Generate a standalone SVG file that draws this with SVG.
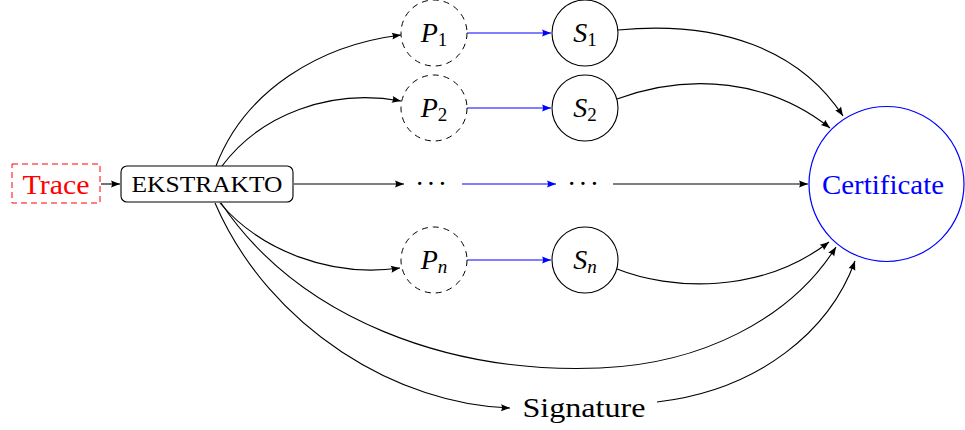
<svg xmlns="http://www.w3.org/2000/svg" width="965" height="430" viewBox="0 0 965 430">
<defs>
<marker id="ah" markerUnits="userSpaceOnUse" markerWidth="12" markerHeight="10" refX="9" refY="3.5" orient="auto" overflow="visible">
<path d="M0,0 L9,3.5 L0,7 Q2,3.5 0,0 Z" fill="#000"/>
</marker>
<marker id="ahb" markerUnits="userSpaceOnUse" markerWidth="12" markerHeight="10" refX="9" refY="3.5" orient="auto" overflow="visible">
<path d="M0,0 L9,3.5 L0,7 Q2,3.5 0,0 Z" fill="#0000ff"/>
</marker>
</defs>
<style>
text{font-family:"Liberation Serif","Times New Roman","DejaVu Serif",serif}
.t{fill:#000}
.e{fill:none;stroke:#000;stroke-width:1.1;marker-end:url(#ah)}
.eb{fill:none;stroke:#0000ff;stroke-width:1.1;marker-end:url(#ahb)}
.dn{fill:#fff;stroke:#000;stroke-width:1;stroke-dasharray:6,5}
.sn{fill:#fff;stroke:#000;stroke-width:1.1}
.lab{font-style:italic;font-size:28px;fill:#000}
.sub{font-style:normal;font-size:19px}
</style>
<g id="connectors">
<path class="e" d="M101,184 L120,184"/>
<path class="e" d="M216,166 C245,90 320,45 401,35"/>
<path class="e" d="M222,166 C260,115 330,88 401,101"/>
<path class="e" d="M220,203 C260,250 330,278 400,268"/>
<path class="e" d="M221,203 C300,320 450,374 600,368 C700,364 790,320 836,247"/>
<path class="e" d="M215,203 C270,330 400,405 510,408"/>
<path class="e" d="M294,184 L404,184"/>
<path class="eb" d="M462,184 L556,184"/>
<path class="e" d="M613,184 L808,184"/>
<path class="eb" d="M467,33 L551,33"/>
<path class="eb" d="M467,108 L551,108"/>
<path class="eb" d="M467,260 L551,260"/>
<path class="e" d="M618,30 C720,20 800,50 843,116"/>
<path class="e" d="M617,99 C690,72 770,80 830,128"/>
<path class="e" d="M617,269 C670,290 760,295 829,242"/>
<path class="e" d="M657,402 C760,390 830,330 855,261"/>
</g>
<g id="trace">
<rect x="12" y="164" width="88" height="39" fill="#fff" stroke="#ff0000" stroke-width="1" stroke-dasharray="6,4"/>
<text font-family="Liberation Serif, serif" x="56" y="194" font-size="28" text-anchor="middle" fill="#ff0000" textLength="67" lengthAdjust="spacingAndGlyphs">Trace</text>
</g>
<g id="ekstrakto">
<rect x="121" y="166" width="172" height="36" rx="6" fill="#fff" stroke="#000" stroke-width="1.1"/>
<text font-family="Liberation Serif, serif" class="t" x="207" y="192" font-size="23" text-anchor="middle" textLength="151" lengthAdjust="spacingAndGlyphs">EKSTRAKTO</text>
</g>
<g id="p1">
<circle class="dn" cx="434" cy="33" r="33"/>
<text class="lab" x="434" y="42" text-anchor="middle">P<tspan class="sub" dy="4">1</tspan></text>
</g>
<g id="p2">
<circle class="dn" cx="434" cy="108" r="33"/>
<text class="lab" x="434" y="117" text-anchor="middle">P<tspan class="sub" dy="4">2</tspan></text>
</g>
<g id="pn">
<circle class="dn" cx="434" cy="260" r="33"/>
<text class="lab" x="434" y="269" text-anchor="middle">P<tspan class="sub" style="font-style:italic" dy="4">n</tspan></text>
</g>
<g id="s1">
<circle class="sn" cx="585" cy="33" r="33"/>
<text class="lab" x="585" y="42" text-anchor="middle">S<tspan class="sub" dy="4">1</tspan></text>
</g>
<g id="s2">
<circle class="sn" cx="585" cy="108" r="33"/>
<text class="lab" x="585" y="117" text-anchor="middle">S<tspan class="sub" dy="4">2</tspan></text>
</g>
<g id="sn">
<circle class="sn" cx="585" cy="260" r="33"/>
<text class="lab" x="585" y="269" text-anchor="middle">S<tspan class="sub" style="font-style:italic" dy="4">n</tspan></text>
</g>
<g id="dots1">
<text class="t" x="432" y="193" font-size="28" text-anchor="middle" letter-spacing="2">···</text>
</g>
<g id="dots2">
<text class="t" x="584" y="193" font-size="28" text-anchor="middle" letter-spacing="2">···</text>
</g>
<g id="certificate">
<circle cx="886.5" cy="184" r="77.5" fill="#fff" stroke="#0000ff" stroke-width="1.2"/>
<text x="883" y="194" font-size="28" text-anchor="middle" fill="#0000ff" textLength="122" lengthAdjust="spacingAndGlyphs">Certificate</text>
</g>
<g id="signature">
<text class="t" x="584" y="417" font-size="28" text-anchor="middle" textLength="123" lengthAdjust="spacingAndGlyphs">Signature</text>
</g>
</svg>
